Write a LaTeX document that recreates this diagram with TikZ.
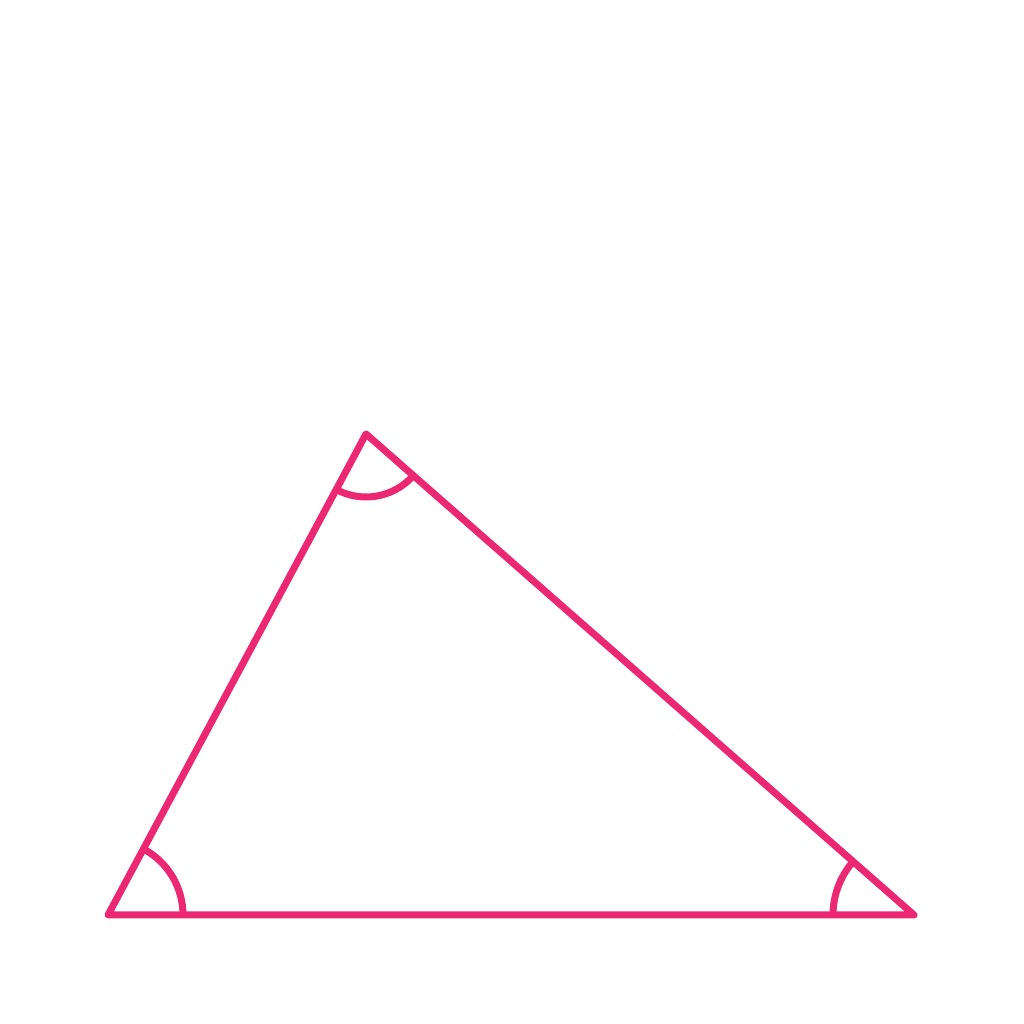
\documentclass[tikz,border=0pt]{standalone}
\usetikzlibrary{calc}
\definecolor{tripink}{RGB}{236,40,114}
\begin{document}
\begin{tikzpicture}[x=1pt,y=1pt,
  edge/.style={draw=tripink,line width=7pt,line join=round,line cap=round},
  anglemark/.style={draw=tripink,line width=7pt,line cap=butt}]
\useasboundingbox (0,0) rectangle (1024,1024);
\coordinate (A) at (108,109);
\coordinate (B) at (914,109);
\coordinate (C) at (366,590);
\draw[anglemark] ($(A)+(75pt,0)$) arc[start angle=0,end angle=61.6,radius=75pt];
\draw[anglemark] ($(B)+(138.8:81pt)$) arc[start angle=138.8,end angle=180,radius=81pt];
\draw[anglemark] ($(C)+(241.6:63pt)$) arc[start angle=241.6,end angle=318.8,radius=63pt];
\draw[edge] (A) -- (B) -- (C) -- cycle;
\end{tikzpicture}
\end{document}
